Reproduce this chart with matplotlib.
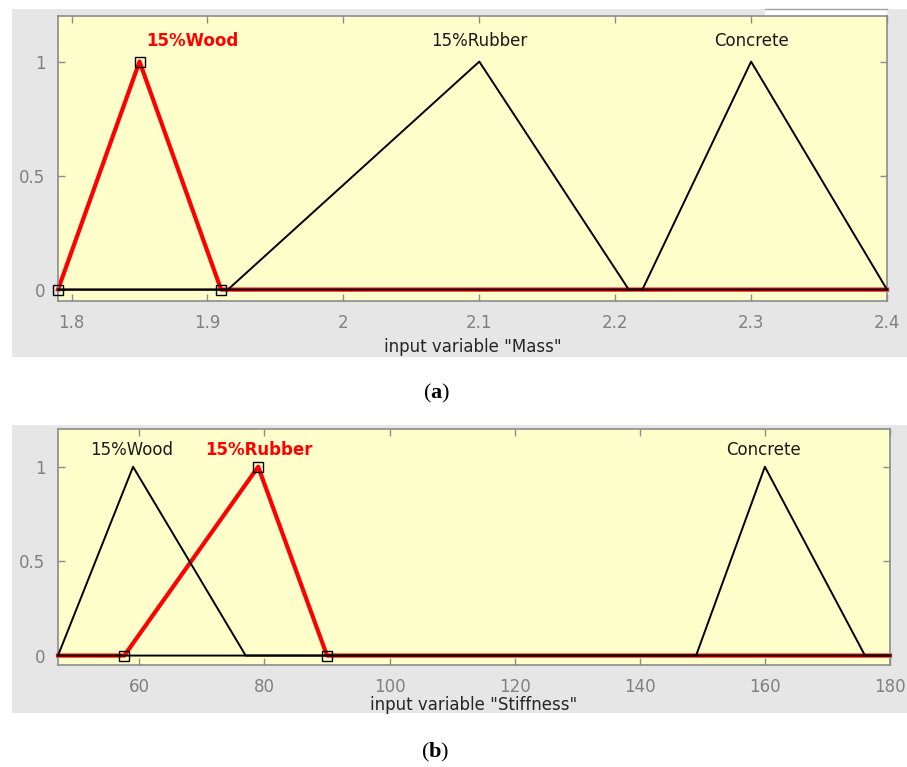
import numpy as np
import matplotlib.pyplot as plt
from matplotlib.patches import Rectangle

plt.rcParams['font.family'] = ['DejaVu Sans']
plt.rcParams['mathtext.fontset'] = 'custom'
plt.rcParams['mathtext.rm'] = 'Liberation Serif'
plt.rcParams['mathtext.bf'] = 'Liberation Serif:bold'

# membership functions (triangles: a, b, c)
mf_names = ['15%Wood', '15%Rubber', 'Concrete']

mass_range = [1.79, 2.4]
mass_params = [[1.79, 1.85, 1.91], [1.915, 2.1, 2.21], [2.22, 2.3, 2.4]]
mass_active = 0
mass_label_x = [1.889, 2.1, 2.3]
mass_xticks = [1.8, 1.9, 2.0, 2.1, 2.2, 2.3, 2.4]
mass_xticklabels = ['1.8', '1.9', '2', '2.1', '2.2', '2.3', '2.4']

stiff_range = [47, 180]
stiff_params = [[47, 59, 77], [57.6, 79, 90], [149, 160, 176]]
stiff_active = 1
stiff_label_x = [58.7, 79.2, 159.8]
stiff_xticks = [60, 80, 100, 120, 140, 160, 180]
stiff_xticklabels = ['60', '80', '100', '120', '140', '160', '180']

yticks = [0, 0.5, 1]
yticklabels = ['0', '0.5', '1']

W, H = 907, 767
fig = plt.figure(figsize=(W / 100, H / 100), dpi=100)
fig.patch.set_facecolor('white')

grey = '#e6e6e6'
edge = '#8c8c8c'


def px_rect(x0, y0, x1, y1, **kw):
    # rectangle in pixel coords (origin top-left), kept behind the axes
    fig.patches.append(Rectangle((x0 / W, 1 - y1 / H), (x1 - x0) / W, (y1 - y0) / H,
                                 transform=fig.transFigure, figure=fig, zorder=-5, **kw))


px_rect(12, 9, 907, 357, facecolor=grey, edgecolor='none')
px_rect(765, 9, 887, 16, facecolor='white', edgecolor='none')
fig.add_artist(plt.Line2D([765 / W, 887 / W], [1 - 9 / H, 1 - 9 / H],
                          color='#a0a0a0', lw=1, zorder=-4))
px_rect(12, 425, 907, 713, facecolor=grey, edgecolor='none')


def draw_panel(ax, rng, params, active, label_x, xticks, xticklabels, xlabel, label_y):
    ax.set_facecolor('#ffffcc')
    for i, (a, b, c) in enumerate(params):
        xs = [rng[0], a, b, c, rng[1]]
        ys = [0, 0, 1, 0, 0]
        if i == active:
            ax.plot(xs, ys, color='#ff0000', lw=3, zorder=2, clip_on=False)
            ax.plot([a, b, c], [0, 1, 0], 's', ms=7.5, mfc='none', mec='k',
                    mew=1, zorder=4, clip_on=False)
            ax.text(label_x[i], 1.09, mf_names[i], ha='center', va='center',
                    color='#ff0000', fontsize=12, fontweight='bold')
        else:
            ax.plot(xs, ys, color='k', lw=1.4, zorder=3, clip_on=False)
            ax.text(label_x[i], 1.09, mf_names[i], ha='center', va='center',
                    color='#1a1a1a', fontsize=12)
    ax.set_xlim(rng)
    ax.set_ylim(-0.05, 1.2)
    ax.set_xticks(xticks)
    ax.set_xticklabels(xticklabels)
    ax.set_yticks(yticks)
    ax.set_yticklabels(yticklabels)
    ax.tick_params(direction='in', length=5, width=1, top=True, right=True,
                   color=edge, labelcolor='#808080', labelsize=12, pad=9)
    for s in ax.spines.values():
        s.set_color(edge)
        s.set_linewidth(1.2)
    ax.set_xlabel(xlabel, fontsize=12, color='#262626')
    ax.xaxis.set_label_coords(0.5, label_y)
    ax.xaxis.label.set_va('center')


ax1 = fig.add_axes([58 / W, 1 - 301 / H, 829 / W, 285 / H])
draw_panel(ax1, mass_range, mass_params, mass_active, mass_label_x,
           mass_xticks, mass_xticklabels, 'input variable "Mass"', -0.161)

ax2 = fig.add_axes([58 / W, 1 - 665 / H, 832 / W, 236 / H])
draw_panel(ax2, stiff_range, stiff_params, stiff_active, stiff_label_x,
           stiff_xticks, stiff_xticklabels, 'input variable "Stiffness"', -0.169)

fig.text(437 / W, 1 - 393 / H, r'($\mathbf{a}$)', ha='center', va='center',
         fontsize=16, family='Liberation Serif')
fig.text(435 / W, 1 - 752 / H, r'($\mathbf{b}$)', ha='center', va='center',
         fontsize=16, family='Liberation Serif')

fig.savefig('out.png', dpi=100, facecolor='white')
